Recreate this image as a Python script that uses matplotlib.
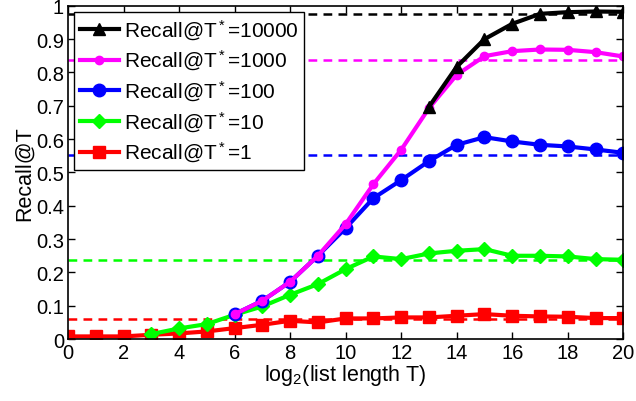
import numpy as np
import matplotlib
matplotlib.use('Agg')
import matplotlib.pyplot as plt

plt.rcParams['font.family'] = ['Liberation Sans', 'DejaVu Sans']
plt.rcParams['mathtext.fontset'] = 'custom'
plt.rcParams['mathtext.rm'] = 'Liberation Sans'
plt.rcParams['mathtext.it'] = 'Liberation Sans'

# Data
x_black = np.arange(13, 21)
r_10000 = [0.697, 0.817, 0.90, 0.946, 0.976, 0.981, 0.983, 0.982]
x_magenta = np.arange(6, 21)
r_1000 = [0.075, 0.115, 0.172, 0.25, 0.345, 0.465, 0.568, 0.693, 0.793,
          0.849, 0.864, 0.869, 0.868, 0.861, 0.848]
x_blue = np.arange(6, 21)
r_100 = [0.075, 0.115, 0.172, 0.25, 0.333, 0.423, 0.477, 0.534, 0.583,
         0.606, 0.593, 0.583, 0.578, 0.569, 0.559]
x_green = np.arange(3, 21)
r_10 = [0.015, 0.032, 0.045, 0.073, 0.098, 0.133, 0.165, 0.21, 0.248, 0.24,
        0.257, 0.265, 0.27, 0.25, 0.25, 0.248, 0.24, 0.238]
x_red = np.arange(0, 21)
r_1 = [0.008, 0.008, 0.008, 0.013, 0.017, 0.023, 0.033, 0.043, 0.055, 0.05,
       0.062, 0.062, 0.065, 0.065, 0.07, 0.075, 0.07, 0.068, 0.067, 0.063,
       0.063]
# reference levels (dashed)
ref_levels = [0.976, 0.838, 0.553, 0.237, 0.06]

series = [
    (x_black, r_10000, 'k', '^', 9, 'Recall@T$^*$=10000'),
    (x_magenta, r_1000, '#ff00ff', '.', 12, 'Recall@T$^*$=1000'),
    (x_blue, r_100, '#0000ff', 'o', 9, 'Recall@T$^*$=100'),
    (x_green, r_10, '#00ff00', 'D', 7, 'Recall@T$^*$=10'),
    (x_red, r_1, '#ff0000', 's', 8, 'Recall@T$^*$=1'),
]

fig = plt.figure(figsize=(6.36, 4.02), dpi=100)
ax = fig.add_axes([0.107, 0.154, 0.873, 0.829])

for (xs, ys, c, m, ms, lab), lev in zip(series, ref_levels):
    ax.axhline(lev, color=c, ls=(0, (3.5, 2.5)), lw=1.8)
for xs, ys, c, m, ms, lab in reversed(series):
    ax.plot(xs, ys, color=c, marker=m, ms=ms, lw=3, label=lab)

ax.set_xlim(0, 20)
ax.set_ylim(0, 1)
ax.set_xticks(range(0, 21, 2))
ax.set_yticks(np.arange(0, 1.01, 0.1))
ax.set_yticklabels(['0', '0.1', '0.2', '0.3', '0.4', '0.5', '0.6', '0.7',
                    '0.8', '0.9', '1'])
ax.tick_params(direction='in', top=True, right=True, labelsize=14.5,
               length=5, width=1, pad=3)
for s in ax.spines.values():
    s.set_linewidth(1.2)
ax.set_xlabel('log$_2$(list length T)', fontsize=15.5, labelpad=0)
ax.set_ylabel('Recall@T', fontsize=15.5, labelpad=1)

handles, labels = ax.get_legend_handles_labels()
leg = ax.legend(handles[::-1], labels[::-1], loc='upper left', fontsize=15,
                fancybox=False, edgecolor='k', framealpha=1,
                borderaxespad=0.3, handlelength=1.9, labelspacing=0.3,
                handletextpad=0.25, borderpad=0.25)
leg.get_frame().set_linewidth(1.0)

fig.savefig('out.png', dpi=100)
